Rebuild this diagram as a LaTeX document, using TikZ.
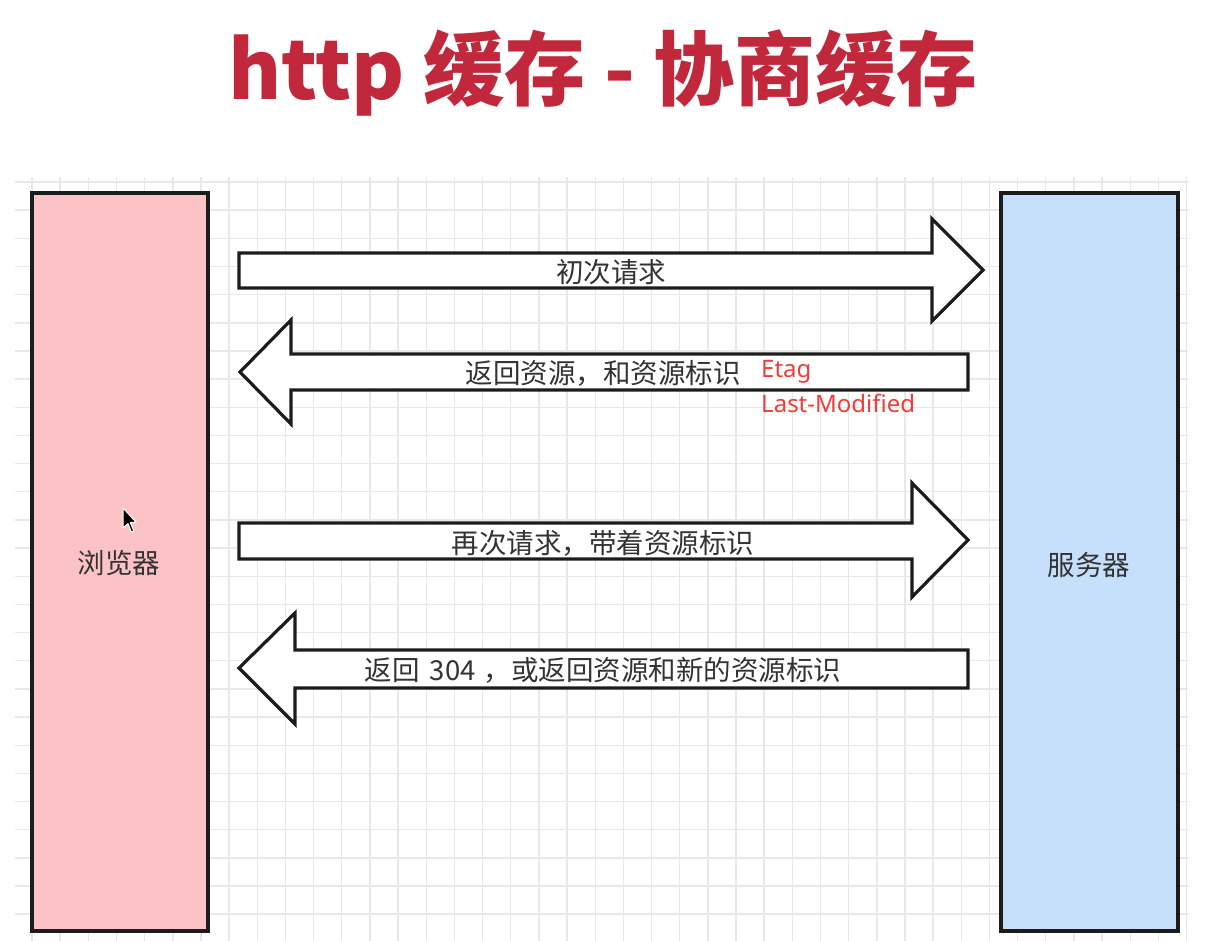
\documentclass[tikz,border=0pt]{standalone}
\usepackage{fontspec}
\newfontfamily\cjk{Noto Sans CJK SC}
\newfontfamily\latinsans{Noto Sans}
\definecolor{gridc}{HTML}{E8E8E8}
\definecolor{titlered}{HTML}{C2283B}
\definecolor{labelred}{HTML}{F23B3B}
\definecolor{pinkfill}{HTML}{FCC3C6}
\definecolor{bluefill}{HTML}{C6E0FC}
\definecolor{edgec}{HTML}{1C1C1C}
\definecolor{textc}{HTML}{333333}
\tikzset{
  box/.style={draw=edgec, line width=3.2pt, minimum width=176pt, minimum height=738pt, inner sep=0pt},
  bigarrow/.style={draw=edgec, fill=white, line width=3.2pt, line join=miter},
  lbl/.style={font=\cjk\fontsize{27.5}{30}\selectfont, text=textc, inner sep=0pt},
  redlbl/.style={font=\latinsans\fontsize{24}{28}\selectfont, text=labelred, inner sep=0pt, anchor=west},
}
\begin{document}
\begin{tikzpicture}[x=1pt,y=-1pt]
\fill[white] (0,0) rectangle (1212,941);
\useasboundingbox (0,0) rectangle (1212,941);
% grid
\foreach \k in {0,...,41} {
  \draw[gridc, line width=1.4pt] ({32+28.16*\k},177) -- ({32+28.16*\k},941);
}
\foreach \k in {0,...,26} {
  \draw[gridc, line width=1.4pt] (15,{182+28.16*\k}) -- (1188,{182+28.16*\k});
}
% title
\node[font=\cjk\bfseries\fontsize{81}{90}\selectfont, text=titlered, inner sep=0pt] (title) at (603,73) {http 缓存 - 协商缓存};
% boxes
\node[box, fill=pinkfill] (browser) at (120,562) {};
\node[box, fill=bluefill, minimum width=177pt] (server) at (1089.5,562) {};
\node[lbl] (browserlbl) at (119,563) {浏览器};
\node[lbl] (serverlbl) at (1089,565) {服务器};
% arrows
\draw[bigarrow] (239,253) -- (932,253) -- (932,219) -- (983,270) -- (932,321) -- (932,288) -- (239,288) -- cycle;
\draw[bigarrow] (968,354) -- (291,354) -- (291,320) -- (240,372) -- (291,424) -- (291,390) -- (968,390) -- cycle;
\draw[bigarrow] (239,523) -- (912,523) -- (912,483) -- (968,540) -- (912,597) -- (912,559) -- (239,559) -- cycle;
\draw[bigarrow] (968,650) -- (295,650) -- (295,613) -- (239,668) -- (295,724) -- (295,688) -- (968,688) -- cycle;
% arrow labels
\node[lbl] (a1) at (611,272) {初次请求};
\node[lbl] (a2) at (603,373) {返回资源，和资源标识};
\node[lbl] (a3) at (603,543) {再次请求，带着资源标识};
\node[lbl] (a4) at (603,670) {返回\hspace{10pt}304\hspace{8pt}，或返回资源和新的资源标识};
\node[redlbl] (etag) at (761,372) {Etag};
\node[redlbl] (lastmod) at (761,403) {Last-Modified};
% mouse cursor
\draw[white, fill=black, line width=1pt, line join=round]
  (123,508) -- (123,528) -- (128,523.6) -- (131.4,532) -- (133.8,530.8) -- (130.2,522.4) -- (136.2,522.4) -- cycle;
\end{tikzpicture}
\end{document}
